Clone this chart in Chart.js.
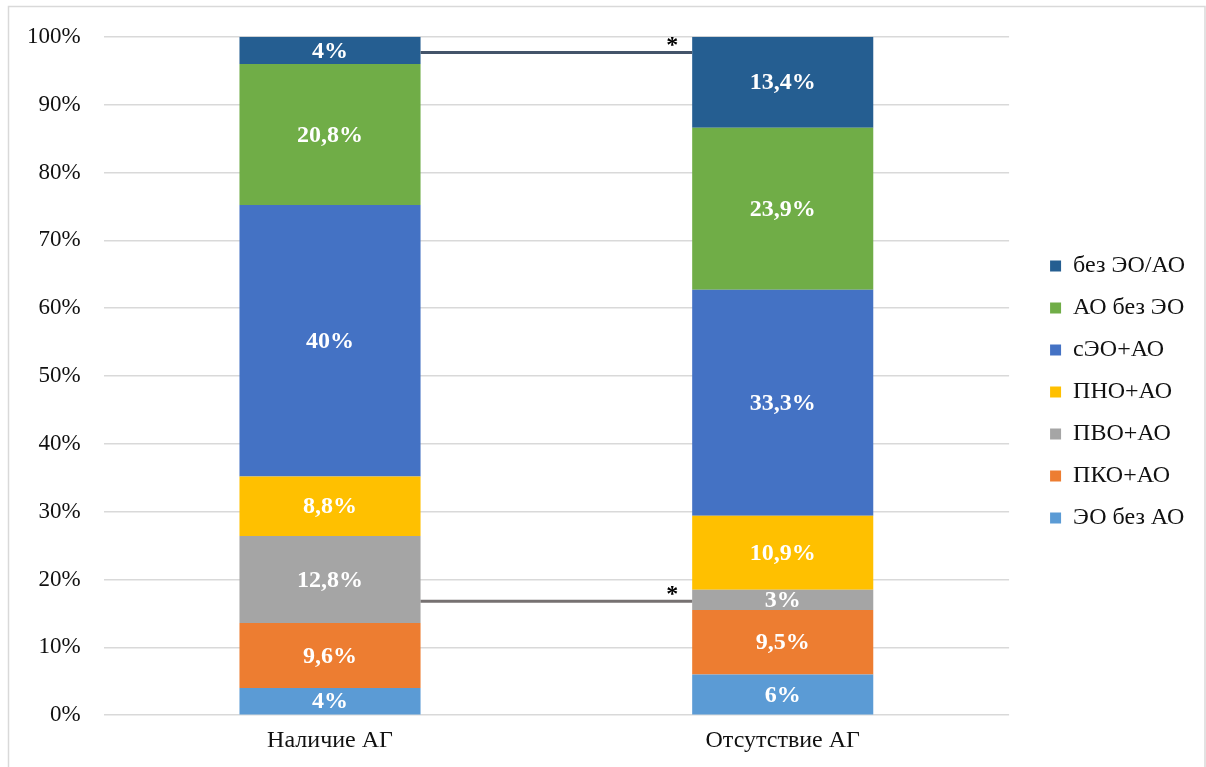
<!DOCTYPE html>
<html lang="ru">
<head>
<meta charset="utf-8">
<title>Структура ожирения при наличии и отсутствии АГ</title>
<script src="https://cdn.jsdelivr.net/npm/chart.js@4.4.1/dist/chart.umd.min.js"></script>
<style>
  html, body { margin: 0; padding: 0; background: #ffffff; }
  #wrap { width: 1206px; height: 767px; position: relative; }
</style>
</head>
<body>
<div id="wrap"><canvas id="chart" width="1206" height="767"></canvas></div>
<script>
// Groups on the x axis
const categories = ['Наличие АГ', 'Отсутствие АГ'];

// Series, bottom of the stack first
const seriesNames = ['ЭО без АО', 'ПКО+АО', 'ПВО+АО', 'ПНО+АО', 'сЭО+АО', 'АО без ЭО', 'без ЭО/АО'];
const seriesColors = ['#5b9bd5', '#ed7d31', '#a5a5a5', '#ffc000', '#4472c4', '#70ad47', '#255e91'];

// Shares, % (one row per series, one value per group)
const eoBezAo   = [4, 6];
const pkoAo     = [9.6, 9.5];
const pvoAo     = [12.8, 3];
const pnoAo     = [8.8, 10.9];
const seoAo     = [40, 33.3];
const aoBezEo   = [20.8, 23.9];
const bezEoAo   = [4, 13.4];
const seriesValues = [eoBezAo, pkoAo, pvoAo, pnoAo, seoAo, aoBezEo, bezEoAo];

// Y axis ticks
const yTicks = [0, 10, 20, 30, 40, 50, 60, 70, 80, 90, 100];

// Significance connectors between the two bars (level in %, colour)
const connectorLevels = [97.7, 16.8];
const connectorColors = ['#44546a', '#767171'];

const SERIF = "'Liberation Serif', 'Times New Roman', serif";

const fmt = v => String(v).replace('.', ',') + '%';

// Light frame around the whole figure
const framePlugin = {
  id: 'frame',
  beforeDraw(chart) {
    const ctx = chart.ctx;
    ctx.save();
    ctx.fillStyle = '#ffffff';
    ctx.fillRect(0, 0, chart.width, chart.height);
    ctx.strokeStyle = '#d9d9d9';
    ctx.lineWidth = 1.5;
    ctx.strokeRect(8.5, 6.5, chart.width - 9.5, chart.height + 20);
    ctx.restore();
  }
};

// White bold value labels centred in each segment
const valueLabels = {
  id: 'valueLabels',
  afterDatasetsDraw(chart) {
    const ctx = chart.ctx;
    ctx.save();
    ctx.font = 'bold 24px ' + SERIF;
    ctx.fillStyle = '#ffffff';
    ctx.textAlign = 'center';
    ctx.textBaseline = 'middle';
    chart.data.datasets.forEach((ds, di) => {
      const meta = chart.getDatasetMeta(di);
      meta.data.forEach((bar, i) => {
        const v = ds.data[i];
        const cy = (bar.y + bar.base) / 2;
        ctx.fillText(fmt(v), bar.x, cy + 1);
      });
    });
    ctx.restore();
  }
};

// Horizontal connectors from the first bar to the second, marked with *
const connectors = {
  id: 'connectors',
  afterDatasetsDraw(chart) {
    const ctx = chart.ctx;
    const meta = chart.getDatasetMeta(0);
    const b1 = meta.data[0], b2 = meta.data[1];
    const x1 = b1.x + b1.width / 2;
    const x2 = b2.x - b2.width / 2;
    const yScale = chart.scales.y;
    ctx.save();
    connectorLevels.forEach((lvl, k) => {
      const y = yScale.getPixelForValue(lvl);
      ctx.strokeStyle = connectorColors[k];
      ctx.lineWidth = 3;
      ctx.beginPath();
      ctx.moveTo(x1, y);
      ctx.lineTo(x2, y);
      ctx.stroke();
      ctx.fillStyle = '#000000';
      ctx.font = 'bold 24px ' + SERIF;
      ctx.textAlign = 'center';
      ctx.textBaseline = 'alphabetic';
      ctx.fillText('*', x2 - 20, y);
    });
    ctx.restore();
  }
};

// Moves the legend a little away from the plot area
const legendOffset = {
  id: 'legendOffset',
  afterLayout(chart, args, opts) {
    const lg = chart.legend;
    if (!lg) return;
    lg.left += opts.dx;
    lg.right += opts.dx;
    lg.top += opts.dy;
    lg.bottom += opts.dy;
  }
};

const datasets = seriesNames.map((name, i) => ({
  label: name,
  data: seriesValues[i],
  backgroundColor: seriesColors[i],
  borderWidth: 0,
  categoryPercentage: 1.0,
  barPercentage: 0.4
}));

new Chart(document.getElementById('chart'), {
  type: 'bar',
  data: { labels: categories, datasets },
  plugins: [framePlugin, valueLabels, connectors, legendOffset],
  options: {
    responsive: false,
    animation: false,
    devicePixelRatio: 1,
    layout: { padding: { left: 4, top: 33, right: 34, bottom: 0 } },
    scales: {
      x: {
        stacked: true,
        grid: { display: false, drawTicks: false },
        border: { display: false },
        ticks: { color: '#111111', padding: 11.5, font: { family: SERIF, size: 24 } }
      },
      y: {
        stacked: true,
        min: 0,
        max: 100,
        afterBuildTicks(scale) { scale.ticks = yTicks.map(v => ({ value: v })); },
        grid: { color: '#d9d9d9', lineWidth: 1.5, drawTicks: false },
        border: { display: false },
        ticks: {
          color: '#111111',
          padding: 23,
          font: { family: SERIF, size: 23 },
          callback: v => v + '%'
        }
      }
    },
    plugins: {
      legend: {
        position: 'right',
        align: 'center',
        reverse: true,
        labels: {
          color: '#111111',
          boxWidth: 11,
          boxHeight: 11,
          padding: 18,
          font: { family: SERIF, size: 24 }
        }
      },
      legendOffset: { dx: 23, dy: -8 },
      tooltip: { enabled: false }
    }
  }
});
</script>
</body>
</html>
